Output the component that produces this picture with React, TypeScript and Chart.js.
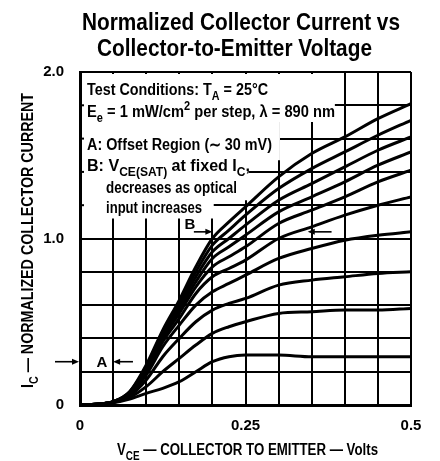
import React, { useEffect, useRef } from 'react';
import { Chart, registerables } from 'chart.js';

Chart.register(...registerables);

// ---- data ----
const vce = [0, 0.025, 0.05, 0.075, 0.1, 0.125, 0.15, 0.175, 0.2, 0.225, 0.25, 0.3, 0.35, 0.4, 0.45, 0.5];

const step1 = [0, 0.004, 0.013, 0.035, 0.07, 0.10, 0.14, 0.20, 0.26, 0.29, 0.30, 0.30, 0.29, 0.29, 0.29, 0.29];
const step2 = [0, 0.005, 0.015, 0.045, 0.11, 0.20, 0.28, 0.36, 0.43, 0.47, 0.50, 0.55, 0.56, 0.57, 0.57, 0.58];
const step3 = [0, 0.005, 0.016, 0.055, 0.15, 0.29, 0.40, 0.50, 0.57, 0.61, 0.64, 0.72, 0.75, 0.77, 0.79, 0.80];
const step4 = [0, 0.005, 0.017, 0.06, 0.18, 0.35, 0.48, 0.60, 0.68, 0.73, 0.78, 0.88, 0.94, 0.99, 1.02, 1.04];
const step5 = [0, 0.005, 0.018, 0.065, 0.19, 0.38, 0.52, 0.67, 0.77, 0.82, 0.87, 1.00, 1.07, 1.14, 1.20, 1.25];
const step6 = [0, 0.005, 0.018, 0.07, 0.20, 0.40, 0.55, 0.71, 0.83, 0.89, 0.95, 1.09, 1.17, 1.25, 1.34, 1.41];
const step7 = [0, 0.005, 0.02, 0.07, 0.21, 0.41, 0.57, 0.74, 0.88, 0.95, 1.02, 1.16, 1.25, 1.34, 1.44, 1.52];
const step8 = [0, 0.005, 0.02, 0.075, 0.22, 0.42, 0.59, 0.77, 0.92, 1.00, 1.08, 1.23, 1.33, 1.43, 1.53, 1.61];
const step9 = [0, 0.005, 0.02, 0.08, 0.23, 0.44, 0.61, 0.80, 0.96, 1.05, 1.14, 1.30, 1.42, 1.52, 1.62, 1.71];
const step10 = [0, 0.005, 0.02, 0.08, 0.24, 0.45, 0.63, 0.83, 1.00, 1.10, 1.19, 1.37, 1.51, 1.61, 1.72, 1.81];

const seriesList = [step1, step2, step3, step4, step5, step6, step7, step8, step9, step10];

const xTickValues = [0, 0.25, 0.5];
const xTickLabels = ['0', '0.25', '0.5'];
const yTickValues = [0, 1, 2];
const yTickLabels = ['0', '1.0', '2.0'];

const titleLines = ['Normalized Collector Current vs', 'Collector-to-Emitter Voltage'];

const FONT = '"Liberation Sans", Arial, sans-serif';

type Seg = { t: string; sub?: boolean; sup?: boolean };

function segFont(s: Seg, size: number, weight: string) {
  const sz = s.sub || s.sup ? Math.round(size * 0.74) : size;
  return `${weight} ${sz}px ${FONT}`;
}

function drawRich(ctx: CanvasRenderingContext2D, segs: Seg[], x: number, y: number, size: number, weight: string, targetWidth: number, center = false) {
  let natural = 0;
  for (const s of segs) {
    ctx.font = segFont(s, size, weight);
    natural += ctx.measureText(s.t).width;
  }
  const sx = targetWidth / natural;
  ctx.save();
  ctx.translate(center ? x - targetWidth / 2 : x, y);
  ctx.scale(sx, 1);
  ctx.fillStyle = '#000';
  ctx.textAlign = 'left';
  ctx.textBaseline = 'alphabetic';
  let cx = 0;
  for (const s of segs) {
    ctx.font = segFont(s, size, weight);
    const dy = s.sub ? size * 0.3 : s.sup ? -size * 0.45 : 0;
    ctx.fillText(s.t, cx, dy);
    cx += ctx.measureText(s.t).width;
  }
  ctx.restore();
}

function arrow(ctx: CanvasRenderingContext2D, x1: number, y: number, x2: number) {
  const dir = Math.sign(x2 - x1);
  ctx.save();
  ctx.strokeStyle = '#000';
  ctx.fillStyle = '#000';
  ctx.lineWidth = 1.6;
  ctx.beginPath();
  ctx.moveTo(x1, y);
  ctx.lineTo(x2 - dir * 4, y);
  ctx.stroke();
  ctx.beginPath();
  ctx.moveTo(x2, y);
  ctx.lineTo(x2 - dir * 7, y - 3);
  ctx.lineTo(x2 - dir * 7, y + 3);
  ctx.closePath();
  ctx.fill();
  ctx.restore();
}

const maskPlugin = {
  id: 'maskPlugin',
  beforeDatasetsDraw(chart: any) {
    const { ctx, chartArea, scales } = chart;
    const xs = scales.x, ys = scales.y;
    const steps: [number, number][] = [
      [0, 2], [0.385, 2], [0.385, 1.70], [0.302, 1.70], [0.302, 1.47], [0.255, 1.47],
      [0.255, 1.23], [0.202, 1.23], [0.202, 1.12], [0, 1.12],
    ];
    ctx.save();
    ctx.beginPath();
    ctx.rect(chartArea.left + 2, chartArea.top + 2, chartArea.right - chartArea.left - 4, chartArea.bottom - chartArea.top - 4);
    ctx.clip();
    ctx.fillStyle = '#fff';
    ctx.beginPath();
    steps.forEach(([vx, vy], i) => {
      const px = xs.getPixelForValue(vx);
      const py = ys.getPixelForValue(vy);
      if (i === 0) ctx.moveTo(px - 3, py - 3);
      else ctx.lineTo(px, py);
    });
    ctx.closePath();
    ctx.fill();
    ctx.restore();
    ctx.save();
    ctx.strokeStyle = '#000';
    ctx.lineWidth = 2;
    [1.2, 1.4, 1.6, 1.8].forEach((v) => {
      const py = ys.getPixelForValue(v);
      ctx.beginPath();
      ctx.moveTo(chartArea.left, py);
      ctx.lineTo(chartArea.left + 4, py);
      ctx.stroke();
    });
    ctx.restore();
  },
};

const textPlugin = {
  id: 'textPlugin',
  afterDatasetsDraw(chart: any) {
    const { ctx, scales } = chart;
    const xs = scales.x, ys = scales.y;
    // title
    drawRich(ctx, [{ t: titleLines[0] }], 241, 30, 23, 'bold', 318, true);
    drawRich(ctx, [{ t: titleLines[1] }], 234.5, 56, 23, 'bold', 275, true);

    // test conditions text
    const w = 'bold';
    drawRich(ctx, [{ t: 'Test Conditions: T' }, { t: 'A', sub: true }, { t: ' = 25°C' }], 87, 95, 16, w, 181);
    drawRich(ctx, [{ t: 'E' }, { t: 'e', sub: true }, { t: ' = 1 mW/cm' }, { t: '2', sup: true }, { t: ' per step, λ = 890 nm' }], 87, 117, 16, w, 248);
    drawRich(ctx, [{ t: 'A: Offset Region (∼ 30 mV)' }], 87, 150, 16, w, 185);
    drawRich(ctx, [{ t: 'B: V' }, { t: 'CE(SAT)', sub: true }, { t: ' at fixed I' }, { t: 'C', sub: true }, { t: ',' }], 87, 171, 16, w, 163);
    drawRich(ctx, [{ t: 'decreases as optical' }], 106, 193, 16, w, 131);
    drawRich(ctx, [{ t: 'input increases' }], 106, 213, 16, w, 96);

    // axis titles
    drawRich(ctx, [{ t: 'V' }, { t: 'CE', sub: true }, { t: ' — COLLECTOR TO EMITTER — Volts' }], 117, 455, 16, 'bold', 261);
    ctx.save();
    ctx.translate(33, 388);
    ctx.rotate(-Math.PI / 2);
    drawRich(ctx, [{ t: 'I' }, { t: 'C', sub: true }, { t: ' — NORMALIZED COLLECTOR CURRENT' }], 0, 0, 16, 'bold', 295);
    ctx.restore();

    // marker A
    const ya = ys.getPixelForValue(0.26);
    ctx.save();
    ctx.fillStyle = '#000';
    ctx.font = `bold 15px ${FONT}`;
    ctx.textAlign = 'center';
    ctx.textBaseline = 'middle';
    ctx.fillText('A', xs.getPixelForValue(0.033), ya + 1);
    ctx.restore();
    arrow(ctx, xs.getPixelForValue(0.08), ya, xs.getPixelForValue(0.05));
    arrow(ctx, chart.chartArea.left - 25, ya, chart.chartArea.left - 1);

    // marker B
    const yb = ys.getPixelForValue(1.04);
    ctx.save();
    ctx.fillStyle = '#000';
    ctx.font = `bold 15px ${FONT}`;
    ctx.textAlign = 'center';
    ctx.textBaseline = 'alphabetic';
    ctx.fillText('B', xs.getPixelForValue(0.166), yb - 3);
    ctx.restore();
    arrow(ctx, xs.getPixelForValue(0.172), yb, xs.getPixelForValue(0.2));
    arrow(ctx, xs.getPixelForValue(0.38), yb, xs.getPixelForValue(0.344));
  },
};

function findLabel(values: number[], labels: string[], v: number) {
  const i = values.findIndex((t) => Math.abs(t - v) < 1e-6);
  return i >= 0 ? labels[i] : '';
}

export default function App() {
  const ref = useRef<HTMLCanvasElement | null>(null);
  useEffect(() => {
    if (!ref.current) return;
    const datasets = seriesList.map((s, i) => ({
      label: `${i + 1} mW/cm²`,
      data: vce.map((x, j) => ({ x, y: s[j] })),
      borderColor: '#000',
      borderWidth: 3,
      pointRadius: 0,
      fill: false,
      cubicInterpolationMode: 'monotone' as const,
    }));
    const chart = new Chart(ref.current, {
      type: 'line',
      data: { datasets },
      options: {
        responsive: false,
        animation: false,
        layout: { padding: { top: 72, right: 29, left: 0, bottom: 0 } },
        plugins: { legend: { display: false }, tooltip: { enabled: false }, title: { display: false } },
        scales: {
          x: {
            type: 'linear',
            min: 0,
            max: 0.5,
            afterFit: (s: any) => { s.height = 56; },
            ticks: {
              stepSize: 0.05,
              autoSkip: false,
              maxRotation: 0,
              padding: 12,
              color: '#000',
              font: { family: FONT, size: 15, weight: 'bold' },
              callback: (v: any) => findLabel(xTickValues, xTickLabels, Number(v)),
            },
            grid: { color: '#000', lineWidth: 2, drawTicks: false },
            border: { color: '#000', width: 3 },
          },
          y: {
            type: 'linear',
            min: 0,
            max: 2,
            afterFit: (s: any) => { s.width = 80; },
            ticks: {
              stepSize: 0.2,
              autoSkip: false,
              padding: 16,
              color: '#000',
              font: { family: FONT, size: 15, weight: 'bold' },
              callback: (v: any) => findLabel(yTickValues, yTickLabels, Number(v)),
            },
            grid: { color: '#000', lineWidth: 2, drawTicks: false },
            border: { color: '#000', width: 3 },
          },
        },
      },
      plugins: [maskPlugin, textPlugin],
    });
    return () => chart.destroy();
  }, []);
  return (
    <div style={{ position: 'fixed', left: 0, top: 0, width: 440, height: 461 }}>
      <canvas ref={ref} width={440} height={461} style={{ display: 'block' }} />
    </div>
  );
}
